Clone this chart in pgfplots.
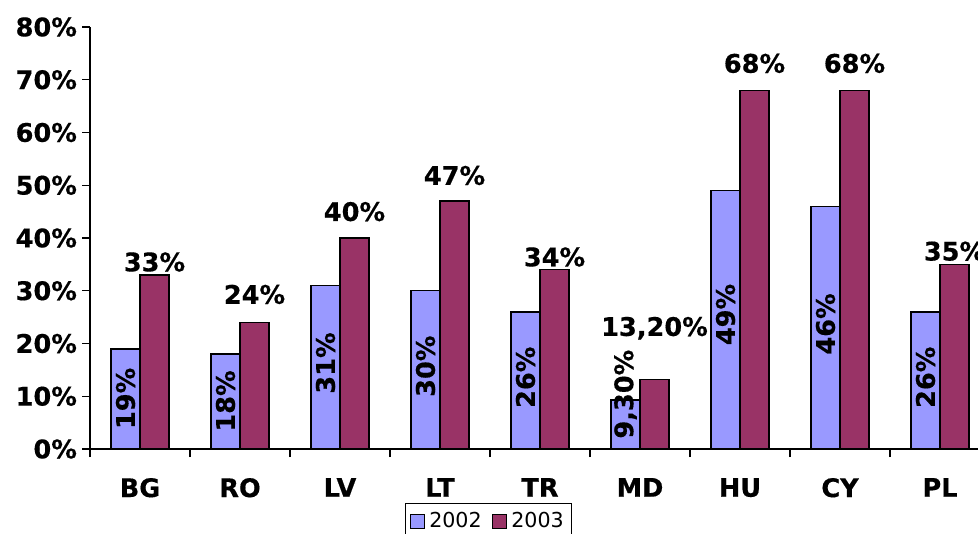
\documentclass[border=0pt]{standalone}
\usepackage{fontspec}
\setmainfont{DejaVu Sans}[BoldFeatures={FakeBold=0.5}]
\usepackage{pgfplots}
\pgfplotsset{compat=1.18}
\definecolor{cA}{HTML}{9999FF}
\definecolor{cB}{HTML}{993366}
\newcommand{\bigbf}{\bfseries\fontsize{12.8}{15}\selectfont}
\begin{document}
\begin{tikzpicture}[x=1pt,y=1pt]
\begin{axis}[
  at={(45pt,42.5pt)}, anchor=south west,
  scale only axis, width=450pt, height=211pt,
  xmin=-0.5, xmax=8.5, ymin=0, ymax=80,
  axis x line*=bottom, axis y line*=left,
  axis line style={-, line width=0.6pt, black},
  tick align=outside, major tick length=4pt,
  tick style={line width=0.6pt, black},
  xtick={-0.5,0.5,...,8.5}, xticklabels={},
  extra x ticks={0,1,2,3,4,5,6,7,8},
  extra x tick labels={BG,RO,LV,LT,TR,MD,HU,CY,PL},
  extra x tick style={major tick length=0pt, tick style={draw=none},
     tick label style={yshift=-11pt}},
  ytick={0,10,...,80},
  yticklabel={\pgfmathprintnumber{\tick}\%},
  /pgf/number format/assume math mode=true,
  tick label style={font=\bigbf},
  yticklabel style={xshift=1pt},
  clip=false,
  legend style={at={(0.443,-0.128)}, anchor=north, legend columns=2,
    draw=black, line width=0.5pt, font=\fontsize{10.3}{12}\selectfont,
    inner xsep=2pt, inner ysep=2.5pt,
    /tikz/every even column/.append style={column sep=3pt}},
  legend image code/.code={\draw[#1, line width=0.6pt] (0pt,-3.6pt) rectangle (7.2pt,3.6pt);},
]
\addplot[ybar, bar width=0.29, bar shift=-0.145, fill=cA, draw=black, line width=0.75pt]
  coordinates {(0,19) (1,18) (2,31) (3,30) (4,26) (5,9.3) (6,49) (7,46) (8,26)};
\addlegendentry{2002}
\addplot[ybar, bar width=0.29, bar shift=0.145, fill=cB, draw=black, line width=0.75pt]
  coordinates {(0,33) (1,24) (2,40) (3,47) (4,34) (5,13.2) (6,68) (7,68) (8,35)};
\addlegendentry{2003}
% labels of 2003 (above bars)
\addplot[draw=none, forget plot, nodes near coords, point meta=explicit symbolic,
  nodes near coords align=center,
  every node near coord/.append style={font=\bigbf, inner sep=0pt}]
  coordinates {(0.145,35.45) [{33\%}] (1.145,29.3) [{24\%}] (2.145,45.0) [{40\%}]
   (3.145,51.85) [{47\%}] (4.145,36.4) [{34\%}] (5.145,22.9) [{13,20\%}]
   (6.145,73.1) [{68\%}] (7.145,73.1) [{68\%}] (8.145,37.5) [{35\%}]};
% labels of 2002 (rotated, inside bars)
\addplot[draw=none, forget plot, nodes near coords, point meta=explicit symbolic,
  nodes near coords align=center,
  every node near coord/.append style={font=\bigbf, inner sep=0pt, rotate=90}]
  coordinates {(-0.145,9.6) [{19\%}] (0.855,9.1) [{18\%}] (1.855,16.3) [{31\%}]
   (2.855,15.7) [{30\%}] (3.855,13.6) [{26\%}] (4.855,10.4) [{9,30\%}]
   (5.855,25.5) [{49\%}] (6.855,23.7) [{46\%}] (7.855,13.6) [{26\%}]};
\end{axis}
\pgfresetboundingbox
\path[use as bounding box] (0,0) rectangle (489pt,267pt);
\end{tikzpicture}
\end{document}
